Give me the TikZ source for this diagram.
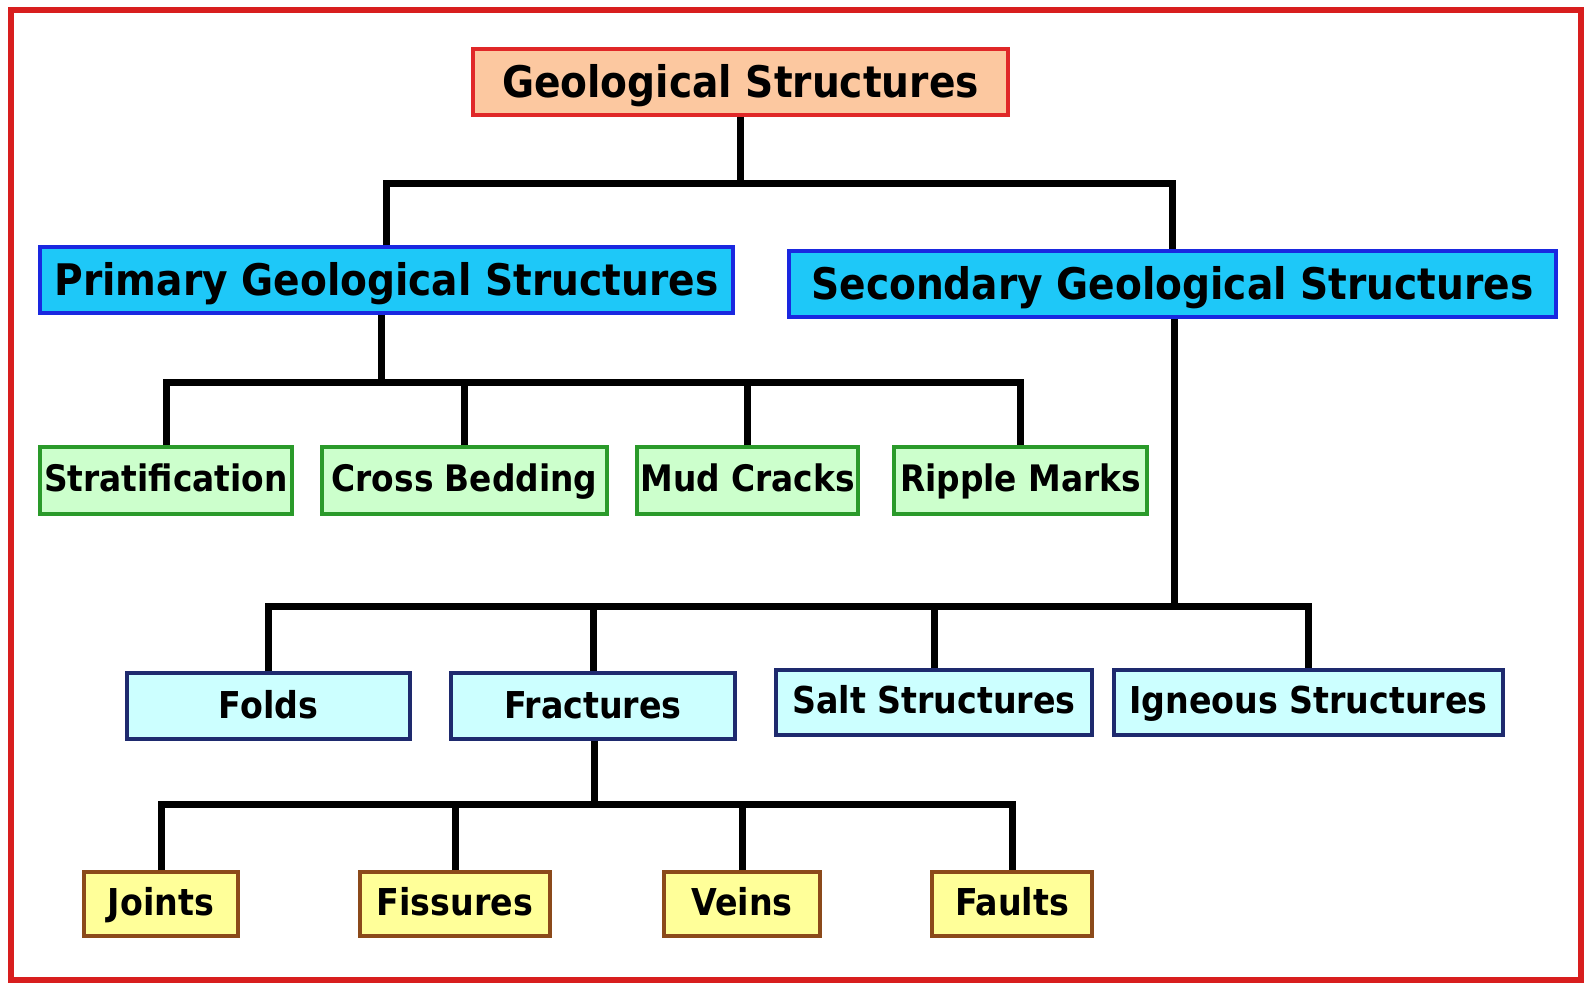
\documentclass[tikz,border=0pt]{standalone}
\usepackage{fontspec}
\IfFontExistsTF{DejaVu Sans Condensed}{\setmainfont{DejaVu Sans Condensed}}{\setmainfont{DejaVu Sans}}
\definecolor{framered}{HTML}{D81E1E}
\definecolor{peach}{HTML}{FCC8A0}
\definecolor{peachline}{HTML}{E02828}
\definecolor{sky}{HTML}{1EC8F8}
\definecolor{skyline}{HTML}{1A28E0}
\definecolor{mint}{HTML}{CCFFCC}
\definecolor{mintline}{HTML}{2A9A2A}
\definecolor{cyanl}{HTML}{CCFFFF}
\definecolor{cyanline}{HTML}{1E2A6E}
\definecolor{lemon}{HTML}{FFFF99}
\definecolor{lemonline}{HTML}{8B4A1A}
\tikzset{
  box/.style={draw, line width=3.2pt, inner sep=0pt, align=center},
  topbox/.style={box, fill=peach, draw=peachline, font=\bfseries\fontsize{43.5}{50}\selectfont, text height=31.7pt, text depth=1pt},
  mainbox/.style={box, fill=sky, draw=skyline, font=\bfseries\fontsize{43.5}{50}\selectfont, text height=31.7pt, text depth=0pt},
  primbox/.style={box, fill=mint, draw=mintline, font=\bfseries\fontsize{36.5}{44}\selectfont, text height=26.6pt, text depth=4pt},
  secbox/.style={box, fill=cyanl, draw=cyanline, font=\bfseries\fontsize{37}{44}\selectfont, text height=27pt, text depth=2pt},
  fracbox/.style={box, fill=lemon, draw=lemonline, font=\bfseries\fontsize{37}{44}\selectfont, text height=27pt, text depth=4pt},
  conn/.style={draw=black, line width=7pt, line join=miter},
}
\begin{document}
\begin{tikzpicture}[x=1pt,y=-1pt]
\useasboundingbox (0,0) rectangle (1591,983);
\fill[white] (0,0) rectangle (1591,983);
\draw[framered, line width=6pt] (11,10) rectangle (1581,980);

% connector junctions
\coordinate (b1) at (742,183);
\coordinate (b2) at (381,382);
\coordinate (b3) at (1174,606);
\coordinate (b4) at (594,804);

% top
\node[topbox, minimum width=535, minimum height=66] (top) at (740.5,82) {Geological Structures};
\node[mainbox, minimum width=693, minimum height=66] (prim) at (386.5,280) {Primary Geological Structures};
\node[mainbox, minimum width=767, minimum height=66] (sec) at (1172.5,284) {Secondary Geological Structures};

% primary children
\node[primbox, minimum width=252, minimum height=67] (strat) at (166,480.5) {Stratification};
\node[primbox, minimum width=285, minimum height=67] (cross) at (464.5,480.5) {Cross Bedding};
\node[primbox, minimum width=221, minimum height=67] (mud) at (747.5,480.5) {Mud Cracks};
\node[primbox, minimum width=253, minimum height=67] (ripple) at (1020.5,480.5) {Ripple Marks};

% secondary children
\node[secbox, minimum width=283, minimum height=66] (folds) at (268.5,706) {Folds};
\node[secbox, minimum width=284, minimum height=66] (frac) at (593,706) {Fractures};
\node[secbox, minimum width=316, minimum height=65, text depth=5pt] (salt) at (934,702.5) {Salt Structures};
\node[secbox, minimum width=389, minimum height=65, text depth=5pt] (ign) at (1308.5,702.5) {Igneous Structures};

% fractures children
\node[fracbox, minimum width=154, minimum height=64] (joints) at (161,904) {Joints};
\node[fracbox, minimum width=190, minimum height=64] (fiss) at (455,904) {Fissures};
\node[fracbox, minimum width=156, minimum height=64] (veins) at (742,904) {Veins};
\node[fracbox, minimum width=160, minimum height=64] (faults) at (1012,904) {Faults};

\draw[conn] (top.south) -- (top.south |- b1);
\draw[conn] (prim.north) -- (prim.north |- b1) -- (sec.north |- b1) -- (sec.north);

\draw[conn] (prim.south -| b2) -- (b2);
\draw[conn] (strat.north) -- (strat.north |- b2) -- (ripple.north |- b2) -- (ripple.north);
\draw[conn] (cross.north) -- (cross.north |- b2);
\draw[conn] (mud.north) -- (mud.north |- b2);

\draw[conn] (sec.south -| b3) -- (b3);
\draw[conn] (folds.north) -- (folds.north |- b3) -- (ign.north |- b3) -- (ign.north);
\draw[conn] (frac.north) -- (frac.north |- b3);
\draw[conn] (salt.north) -- (salt.north |- b3);

\draw[conn] (frac.south -| b4) -- (b4);
\draw[conn] (joints.north) -- (joints.north |- b4) -- (faults.north |- b4) -- (faults.north);
\draw[conn] (fiss.north) -- (fiss.north |- b4);
\draw[conn] (veins.north) -- (veins.north |- b4);
\end{tikzpicture}
\end{document}
